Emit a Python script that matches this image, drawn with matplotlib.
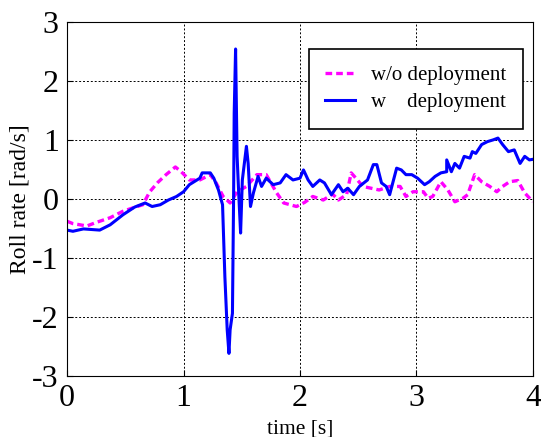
import matplotlib
matplotlib.use('Agg')
import matplotlib.pyplot as plt

# w/o deployment (magenta, dashed)
t_wo = [0.0, 0.05, 0.17, 0.25, 0.37, 0.48, 0.57, 0.65, 0.71, 0.78, 0.85, 0.93, 0.98,
        1.05, 1.14, 1.23, 1.28, 1.34, 1.40, 1.46, 1.54, 1.63, 1.71, 1.80, 1.86, 1.97,
        2.04, 2.11, 2.20, 2.28, 2.33, 2.40, 2.44, 2.48, 2.54, 2.61, 2.68, 2.77, 2.86,
        2.91, 2.97, 3.06, 3.10, 3.14, 3.21, 3.27, 3.33, 3.40, 3.44, 3.50, 3.56, 3.63,
        3.69, 3.74, 3.80, 3.87, 3.93, 4.0]
r_wo = [-0.38, -0.42, -0.46, -0.40, -0.32, -0.21, -0.15, -0.10, 0.12, 0.28, 0.41, 0.54, 0.46,
        0.32, 0.32, 0.41, 0.27, 0.04, -0.07, 0.12, 0.21, 0.41, 0.41, 0.10, -0.07, -0.13,
        -0.06, 0.04, -0.02, 0.08, -0.02, 0.07, 0.44, 0.35, 0.21, 0.18, 0.15, 0.21, 0.21,
        0.04, 0.12, 0.12, 0.01, 0.04, 0.29, 0.15, -0.05, 0.01, 0.07, 0.41, 0.29, 0.21,
        0.12, 0.21, 0.29, 0.31, 0.10, -0.05]

# w deployment (blue, solid)
t_w = [0.0, 0.05, 0.14, 0.28, 0.37, 0.48, 0.58, 0.67, 0.73, 0.80, 0.87, 0.94, 1.0,
       1.05, 1.14, 1.16, 1.23, 1.26, 1.30, 1.335, 1.355, 1.375, 1.39, 1.40, 1.42, 1.43,
       1.435, 1.447, 1.46, 1.475, 1.49, 1.505, 1.54, 1.555, 1.575, 1.60, 1.64, 1.67,
       1.71, 1.77, 1.83, 1.88, 1.94, 2.0, 2.03, 2.07, 2.11, 2.17, 2.21, 2.27, 2.33,
       2.37, 2.41, 2.46, 2.51, 2.58, 2.63, 2.66, 2.70, 2.74, 2.77, 2.83, 2.87, 2.91,
       2.96, 3.01, 3.07, 3.11, 3.16, 3.21, 3.26, 3.26, 3.30, 3.33, 3.37, 3.41, 3.46,
       3.48, 3.51, 3.56, 3.61, 3.66, 3.70, 3.74, 3.79, 3.84, 3.89, 3.93, 3.97, 4.0]
r_w = [-0.53, -0.55, -0.51, -0.53, -0.44, -0.27, -0.14, -0.07, -0.13, -0.10, -0.02, 0.04, 0.12,
       0.24, 0.35, 0.44, 0.44, 0.35, 0.15, -0.10, -1.32, -2.22, -2.62, -2.22, -1.94, 0.04,
       1.45, 2.54, 0.72, 0.04, -0.58, 0.32, 0.89, 0.60, -0.13, 0.10, 0.38, 0.21,
       0.35, 0.24, 0.27, 0.41, 0.32, 0.35, 0.49, 0.32, 0.21, 0.32, 0.27, 0.07, 0.24,
       0.12, 0.18, 0.07, 0.21, 0.32, 0.58, 0.58, 0.27, 0.21, 0.07, 0.52, 0.49, 0.41,
       0.41, 0.35, 0.24, 0.29, 0.38, 0.44, 0.46, 0.66, 0.46, 0.60, 0.52, 0.72, 0.69,
       0.80, 0.77, 0.92, 0.97, 1.0, 1.03, 0.92, 0.80, 0.83, 0.60, 0.72, 0.66, 0.67]

plt.rcParams['font.family'] = ['Liberation Serif', 'DejaVu Serif']
plt.rcParams['axes.unicode_minus'] = False

fig = plt.figure(figsize=(5.41, 4.37), dpi=100)
ax = fig.add_axes([0.124, 0.140, 0.861, 0.810])

ax.plot(t_wo, r_wo, color='#ff00ff', linestyle=(0, (2.0, 1.2)), linewidth=2.4,
        label='w/o deployment')
ax.plot(t_w, r_w, color='#0000ff', linestyle='-', linewidth=2.2,
        label='w    deployment')

ax.set_xlim(0, 4)
ax.set_ylim(-3, 3)
ax.set_xticks([0, 1, 2, 3, 4])
ax.set_yticks([-3, -2, -1, 0, 1, 2, 3])
ax.tick_params(direction='in', labelsize=23, length=4, pad=6)
ax.grid(True, color='black', linestyle=(0, (2, 2)), linewidth=0.7)

ax.set_xlabel('time [s]', fontsize=15.5)
ax.set_ylabel('Roll rate [rad/s]', fontsize=17)
ax.xaxis.set_label_coords(0.5, -0.122)
ax.yaxis.set_label_coords(-0.079, 0.5)

leg = ax.legend(loc='upper right', bbox_to_anchor=(0.979, 0.924), fontsize=15,
                fancybox=False, framealpha=1, edgecolor='black', handlelength=1.4,
                handletextpad=0.8, borderpad=0.8, labelspacing=0.35, borderaxespad=0)
leg.get_frame().set_linewidth(1.2)

fig.savefig('out.png', dpi=100)
